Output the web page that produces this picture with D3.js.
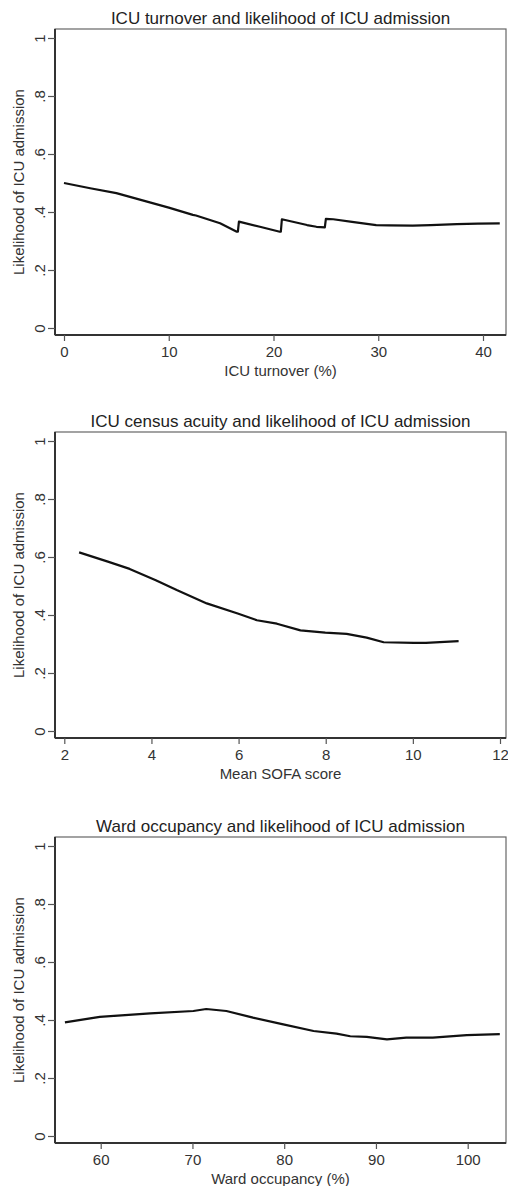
<!DOCTYPE html>
<html>
<head>
<meta charset="utf-8">
<script src="https://cdn.jsdelivr.net/npm/d3@7"></script>
<style>
  body { margin: 0; background: #fff; }
  text { font-family: "Liberation Sans", Arial, sans-serif; fill: #222; }
</style>
</head>
<body>
<svg id="chart" width="508" height="1186"></svg>
<script>
// DATA
const titles = [
  "ICU turnover and likelihood of ICU admission",
  "ICU census acuity and likelihood of ICU admission",
  "Ward occupancy and likelihood of ICU admission",
];
const xTitles = ["ICU turnover (%)", "Mean SOFA score", "Ward occupancy (%)"];
const yTitle = "Likelihood of ICU admission";

const yTicks = [0, 0.2, 0.4, 0.6, 0.8, 1];
const yTickLabels = ["0", ".2", ".4", ".6", ".8", "1"];

const turnoverTicks = [0, 10, 20, 30, 40];
const sofaTicks = [2, 4, 6, 8, 10, 12];
const wardTicks = [60, 70, 80, 90, 100];

// ICU turnover (%) vs likelihood (steps near 16.6, 20.8, 25)
const turnoverX = [0, 2.5, 5, 7.5, 10, 12.3, 12.6, 14.9, 16.5, 16.6, 16.7, 18.7, 20.6, 20.7, 20.8, 23.2, 24.1, 24.9, 25.0, 25.7, 27.5, 29.8, 31, 33.3, 35, 37.5, 39.5, 41.6];
const turnoverY = [0.50, 0.482, 0.465, 0.44, 0.415, 0.39, 0.388, 0.361, 0.332, 0.332, 0.367, 0.349, 0.332, 0.332, 0.375, 0.355, 0.349, 0.347, 0.376, 0.375, 0.366, 0.355, 0.354, 0.353, 0.355, 0.358, 0.360, 0.361];

// Mean SOFA score vs likelihood
const sofaX = [2.34, 3.0, 3.5, 4.1, 4.58, 5.27, 5.98, 6.42, 6.88, 7.42, 7.99, 8.48, 8.94, 9.33, 10.02, 10.3, 11.05];
const sofaY = [0.616, 0.584, 0.559, 0.52, 0.486, 0.44, 0.405, 0.382, 0.37, 0.347, 0.339, 0.335, 0.322, 0.306, 0.304, 0.304, 0.31];

// Ward occupancy (%) vs likelihood
const wardX = [56.1, 59.9, 65.4, 70.1, 71.5, 73.7, 76.6, 79.9, 83.2, 85.7, 87.2, 89.0, 91.2, 93.3, 96.2, 99.9, 103.5];
const wardY = [0.392, 0.411, 0.423, 0.431, 0.438, 0.431, 0.408, 0.385, 0.362, 0.353, 0.344, 0.342, 0.333, 0.339, 0.339, 0.348, 0.351];

// LAYOUT
const frameLeft = 55, frameRight = 506, frameH = 306;
const panels = [
  { top: 29, xDomain: [0, 40], xRange: [64, 483], ticks: turnoverTicks, xs: turnoverX, ys: turnoverY },
  { top: 432, xDomain: [2, 12], xRange: [64.3, 500], ticks: sofaTicks, xs: sofaX, ys: sofaY },
  { top: 837, xDomain: [60, 100], xRange: [100.7, 467.7], ticks: wardTicks, xs: wardX, ys: wardY },
];

const svg = d3.select("#chart");

panels.forEach((p, i) => {
  const bottom = p.top + frameH;
  const g = svg.append("g");

  const x = d3.scaleLinear().domain(p.xDomain).range(p.xRange);
  const y = d3.scaleLinear().domain([0, 1]).range([bottom - 7, p.top + 9]);

  // plot region border
  g.append("rect")
    .attr("x", frameLeft)
    .attr("y", p.top)
    .attr("width", frameRight - frameLeft)
    .attr("height", frameH)
    .attr("fill", "none")
    .attr("stroke", "#666")
    .attr("stroke-width", 1.2);

  // y axis
  const gy = g.append("g")
    .attr("transform", `translate(${frameLeft},0)`)
    .call(d3.axisLeft(y).tickValues(yTicks).tickSize(7).tickSizeOuter(0)
      .tickFormat((d, k) => yTickLabels[k]));
  gy.select(".domain").attr("stroke", "#333").attr("stroke-width", 2)
    .attr("d", `M0,${p.top}V${bottom}`);
  gy.selectAll(".tick line").attr("stroke", "#555").attr("stroke-width", 1.2);
  gy.selectAll(".tick text")
    .attr("x", 0).attr("y", 0).attr("dy", 0)
    .attr("text-anchor", "middle")
    .attr("transform", "translate(-10,0) rotate(-90)")
    .style("font-size", "15px")
    .style("fill", "#333");

  // x axis
  const gx = g.append("g")
    .attr("transform", `translate(0,${bottom})`)
    .call(d3.axisBottom(x).tickValues(p.ticks).tickSize(6).tickPadding(5).tickSizeOuter(0));
  gx.select(".domain").attr("stroke", "#333").attr("stroke-width", 2)
    .attr("d", `M${frameLeft},0H${frameRight}`);
  gx.selectAll(".tick line").attr("stroke", "#555").attr("stroke-width", 1.2);
  gx.selectAll(".tick text").style("font-size", "15px").style("fill", "#333");

  // titles
  g.append("text")
    .attr("x", (frameLeft + frameRight) / 2)
    .attr("y", p.top - 5)
    .attr("text-anchor", "middle")
    .style("font-size", "17px")
    .text(titles[i]);

  g.append("text")
    .attr("x", (frameLeft + frameRight) / 2)
    .attr("y", bottom + 41)
    .attr("text-anchor", "middle")
    .style("font-size", "15px")
    .style("fill", "#333")
    .text(xTitles[i]);

  g.append("text")
    .attr("transform", `translate(24,${p.top + frameH / 2}) rotate(-90)`)
    .attr("text-anchor", "middle")
    .style("font-size", "15px")
    .style("fill", "#333")
    .text(yTitle);

  // curve
  const pts = p.xs.map((v, k) => [v, p.ys[k]]);
  g.append("path")
    .datum(pts)
    .attr("fill", "none")
    .attr("stroke", "#111")
    .attr("stroke-width", 2.2)
    .attr("stroke-linejoin", "round")
    .attr("d", d3.line().x(d => x(d[0])).y(d => y(d[1])));
});
</script>
</body>
</html>
